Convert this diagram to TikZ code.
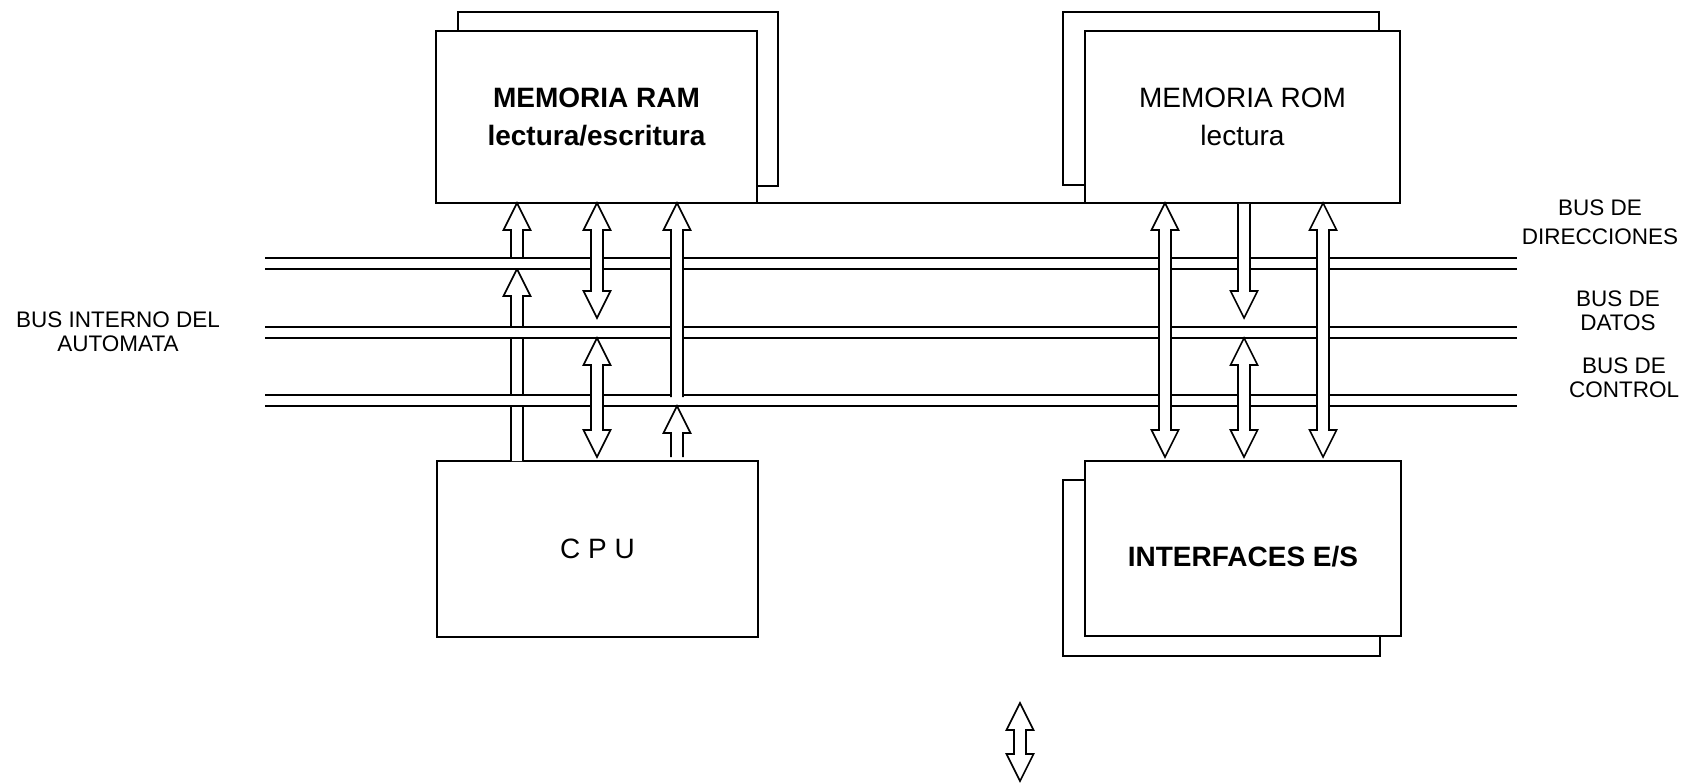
\documentclass[tikz,border=0pt]{standalone}
\usepackage{fontspec}
\setmainfont{Liberation Sans}
\usetikzlibrary{calc}

\begin{document}
\begin{tikzpicture}[x=1pt, y=-1pt,
        line width=1.6pt,
        box/.style={draw, fill=white, inner sep=0pt, outer sep=0pt, align=center, font=\fontsize{28}{38}\selectfont},
        lbl/.style={align=center, font=\fontsize{22.5}{24}\selectfont},
        harr/.style={fill=white, to path={let \p1=(\tikztostart), \p2=(\tikztotarget), \p3=($(\p2)!27pt!(\p1)$) in
            ({\x1-6pt},\y1) -- ({\x1-6pt},\y3) -- ({\x1-13.5pt},\y3) -- (\x1,\y2)
            -- ({\x1+13.5pt},\y3) -- ({\x1+6pt},\y3) -- ({\x1+6pt},\y1)}},
        hharr/.style={fill=white, to path={let \p1=(\tikztostart), \p2=(\tikztotarget),
            \p3=($(\p2)!27pt!(\p1)$), \p4=($(\p1)!27pt!(\p2)$) in
            (\x1,\y1) -- ({\x1+13.5pt},\y4) -- ({\x1+6pt},\y4) -- ({\x1+6pt},\y3) -- ({\x1+13.5pt},\y3)
            -- (\x1,\y2) -- ({\x1-13.5pt},\y3) -- ({\x1-6pt},\y3) -- ({\x1-6pt},\y4) -- ({\x1-13.5pt},\y4) -- cycle}},
    ]
    \useasboundingbox (0,0) rectangle (1685,783);

    % columns and bus lines
    \coordinate (c1) at (517,0);
    \coordinate (c2) at (597,0);
    \coordinate (c3) at (677,0);
    \coordinate (c4) at (1165,0);
    \coordinate (c5) at (1244,0);
    \coordinate (c6) at (1323,0);
    \coordinate (aT) at (0,258);
    \coordinate (aB) at (0,269);
    \coordinate (dT) at (0,327);
    \coordinate (dB) at (0,338);
    \coordinate (kT) at (0,395);
    \coordinate (kB) at (0,406);
    \coordinate (bl) at (265,0);
    \coordinate (br) at (1517,0);

    % boxes
    \node[box, minimum width=320pt, minimum height=174pt] (ramb) at (618,99) {};
    \node[box, minimum width=321pt, minimum height=172pt, font=\fontsize{28}{38}\selectfont\bfseries] (ram) at (596.5,117) {MEMORIA RAM\\lectura/escritura};
    \node[box, minimum width=316pt, minimum height=173pt] (romb) at (1221,98.5) {};
    \node[box, minimum width=315pt, minimum height=172pt] (rom) at (1242.5,117) {MEMORIA ROM\\lectura};
    \node[box, minimum width=321pt, minimum height=176pt] (cpu) at (597.5,549) {C P U};
    \node[box, minimum width=317pt, minimum height=176pt] (iob) at (1221.5,568) {};
    \node[box, minimum width=316pt, minimum height=175pt, font=\fontsize{28}{38}\selectfont\bfseries] (io) at (1243,548.5) {\raisebox{-18pt}[0pt][0pt]{INTERFACES E/S}};
    \draw (ram.south east) -- (rom.south west);

    % address from CPU, under the buses
    \draw[harr] (c1 |- cpu.north) to (c1 |- aB);

    % buses
    \fill[white] (bl |- aT) rectangle (br |- aB);
    \fill[white] (bl |- dT) rectangle (br |- dB);
    \fill[white] (bl |- kT) rectangle (br |- kB);
    \draw (bl |- aT) -- (br |- aT) (bl |- aB) -- (br |- aB);
    \draw (bl |- dT) -- (br |- dT) (bl |- dB) -- (br |- dB);
    \draw (bl |- kT) -- (br |- kT) (bl |- kB) -- (br |- kB);

    % RAM side
    \draw[harr] ([yshift=1pt]c1 |- aT) to (c1 |- ram.south);
    \draw[hharr] (c2 |- ram.south) to ([yshift=9pt]c2 |- dT);
    \draw[hharr] (c2 |- dB) to ([yshift=4pt]c2 |- cpu.north);
    \draw[harr] ([yshift=-2pt]c3 |- kT) to (c3 |- ram.south);
    \draw[harr] ([yshift=4pt]c3 |- cpu.north) to (c3 |- kB);

    % ROM side
    \draw[hharr] (c4 |- rom.south) to ([yshift=4pt]c4 |- io.north);
    \draw[harr] ([yshift=-1pt]c5 |- rom.south) to ([yshift=9pt]c5 |- dT);
    \draw[hharr] (c5 |- dB) to ([yshift=4pt]c5 |- io.north);
    \draw[hharr] (c6 |- rom.south) to ([yshift=4pt]c6 |- io.north);

    % outside
    \coordinate (ext1) at (1020,703);
    \coordinate (ext2) at (1020,781);
    \draw[hharr] (ext1) to (ext2);

    % labels
    \node[lbl] (lblint) at (118,332) {BUS INTERNO DEL\\AUTOMATA};
    \node[lbl, font=\fontsize{22.5}{29}\selectfont] (lbldir) at (1600,222) {BUS DE\\DIRECCIONES};
    \node[lbl] (lbldat) at (1618,311) {BUS DE\\DATOS};
    \node[lbl] (lblctl) at (1624,378) {BUS DE\\CONTROL};
\end{tikzpicture}
\end{document}
